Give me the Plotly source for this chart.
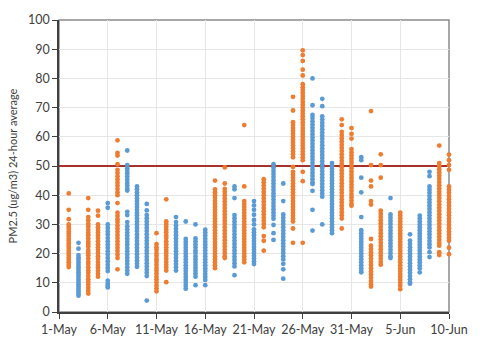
import plotly.graph_objects as go

# Daily 24-hour PM2.5 readings at each monitor, grouped into two series
dates_blue = ["2019-05-03", "2019-05-06", "2019-05-08", "2019-05-09", "2019-05-10",
              "2019-05-13", "2019-05-14", "2019-05-15", "2019-05-16", "2019-05-19",
              "2019-05-21", "2019-05-23", "2019-05-24", "2019-05-27", "2019-05-28",
              "2019-05-29", "2019-06-01", "2019-06-04", "2019-06-06", "2019-06-07",
              "2019-06-08"]
pm25_blue = [
    [23.7, 21.7, 19.5, 18.6, 17.9, 17, 16.1, 15.3, 14.4, 13.6, 12.8, 12, 11.1, 10.3, 9.5, 8.7, 7.9, 7.1, 6.3, 5.6],
    [37.3, 35.7, 30, 28.8, 27.6, 26.5, 25.3, 24.2, 23.1, 22, 20.8, 19.7, 18.5, 17.4, 16.2, 15.1, 14, 10.7, 9.7, 8.9, 8.4],
    [55.3, 50.3, 49.2, 48.3, 47.4, 46.4, 45.3, 44.2, 43.2, 42.2, 41.6, 34.3, 33.2, 30.8, 29.4, 28.3, 27.2, 26.2,
     25.1, 24, 23, 21.9, 20.8, 19.7, 18.6, 17.5, 16.4, 15.3, 14.2, 13.1],
    [43, 42, 41, 40, 38.9, 38, 37, 36, 35, 34, 33.1, 32, 31, 30, 28.8, 27.7, 26.5, 25.4, 24.3, 23.2, 22, 20.9,
     19.8, 18.7, 17.6, 16.5, 15.5],
    [37, 34.8, 33.2, 32.1, 31, 29.9, 28.8, 27.7, 26.6, 25.5, 24.4, 23.3, 22.2, 21.1, 20, 18.9, 17.8, 16.7, 15.6,
     14.5, 13.4, 12.3, 3.9],
    [32.5, 30.8, 29.6, 28.5, 27.4, 26.3, 25.2, 24.1, 23, 21.9, 20.8, 19.7, 18.6, 17.5, 16.4, 15.3, 14.2],
    [31, 25, 24, 23, 22, 21, 20, 19, 18, 17, 16, 15, 14, 13, 12, 11, 10, 9, 8],
    [30, 25.2, 24.2, 23.2, 22.2, 21.1, 20.2, 19.1, 18.1, 17.1, 16.1, 15.1, 14.1, 13.1, 12.1, 9.2],
    [28.2, 27.2, 26.2, 25.1, 24.1, 23.1, 22.1, 21.1, 20, 19, 18, 17, 16, 15, 14, 13, 12, 11, 9.2],
    [43, 42, 39, 33.2, 32.1, 31, 29.9, 28.8, 27.7, 26.6, 25.5, 24.4, 23.3, 22.2, 21.1, 20, 18.9, 17.8, 16.7,
     15.6, 12.6],
    [38, 36.5, 35, 33.3, 31.5, 30, 28.3, 27.3, 26.3, 25.3, 24.3, 23.3, 22.3, 21.3, 20.3, 19.3, 18.3, 17.3, 16.4],
    [50.6, 49.5, 48.4, 47.3, 46.2, 45.1, 44, 42.9, 41.8, 40.7, 39.6, 38.5, 37.4, 36.3, 35.2, 34.1, 33, 31.9,
     29.8, 27, 24.7],
    [44, 38, 33.4, 32.3, 31.2, 30.1, 29, 27.9, 26.8, 25.7, 24.6, 23.5, 22.4, 21.3, 20.2, 19.1, 18, 16.5, 14.6, 11.4],
    [80, 70.8, 67.5, 66.4, 65.3, 64.2, 63.1, 62, 60.9, 59.8, 58.7, 57.6, 56.5, 55.4, 54.3, 53.2, 52.1, 51, 49.9,
     48.8, 47.7, 46.6, 45.5, 44.4, 43.8, 41.5, 35, 27.9],
    [73, 70.5, 67, 65.9, 64.8, 63.7, 62.6, 61.5, 60.4, 59.3, 58.2, 57.1, 56, 54.9, 53.8, 52.7, 51.6, 50.5, 49.4,
     48.3, 47.2, 46.1, 45, 43.9, 42.8, 41.7, 40.6, 39.5, 30],
    [51, 50, 49, 48, 47, 46, 45, 44, 43, 42, 41, 40, 39, 38, 37, 36, 35, 34, 33, 32, 31, 30, 29, 28, 27],
    [53, 52, 46, 41, 32.5, 28, 27, 26, 25, 24, 23, 22, 21, 20, 19, 18, 17, 16, 15, 14, 13.6],
    [39, 33.4, 32.3, 31.2, 30.1, 29, 27.9, 26.8, 25.7, 24.6, 23.5, 22.4, 21.3, 20.2, 19.1, 18.5],
    [26.6, 24.4, 23.3, 22.2, 21.1, 20, 18.9, 17.8, 16.7, 15.6, 14.5, 13.4, 12.3, 11.2, 10.1, 9.7],
    [33, 32, 31, 30, 29, 28, 27, 26, 25, 24, 23, 22, 21, 20, 19, 18, 17, 16, 15, 13.6],
    [48, 46.5, 43, 41.9, 40.8, 39.7, 38.6, 37.5, 36.4, 35.3, 34.2, 33.1, 32, 30.9, 29.8, 28.7, 27.6, 26.5, 25.4,
     24.3, 23.2, 22.1, 20.5, 18.8],
]

dates_orange = ["2019-05-02", "2019-05-04", "2019-05-05", "2019-05-07", "2019-05-11",
                "2019-05-12", "2019-05-17", "2019-05-18", "2019-05-20", "2019-05-22",
                "2019-05-25", "2019-05-26", "2019-05-30", "2019-05-31", "2019-06-02",
                "2019-06-03", "2019-06-05", "2019-06-09", "2019-06-10"]
pm25_orange = [
    [40.6, 35, 31.8, 30, 29.2, 28.5, 27.6, 26.8, 26, 25.1, 24.3, 23.5, 22.6, 21.9, 21, 20.2, 19.5, 18.6, 17.8,
     17, 16.2, 15.4],
    [39, 35, 32.5, 31.4, 30.2, 29.3, 28.2, 27.1, 26.3, 25.2, 24.1, 23.3, 22.4, 21.2, 20.3, 19.4, 18.3, 17.2,
     16.4, 15.3, 14.2, 13.4, 12.3, 11.2, 10.3, 9.4, 8.3, 7.3, 6.3],
    [34.7, 33, 30, 29, 28.1, 27.2, 26.2, 25.3, 24.2, 23.1, 22.2, 21.3, 20.2, 19.1, 18.2, 17.1, 16.1, 15.2, 14.1,
     13.1, 12.1],
    [58.8, 54.5, 53.6, 50.6, 48.7, 47.6, 46.5, 45.4, 44.3, 43.2, 42.1, 41, 40, 37.3, 34, 32.9, 31.8, 30.8, 29.7,
     28.6, 27.5, 26.4, 25.3, 24.2, 23.1, 22, 20.9, 19.7, 18.5, 14.6],
    [27, 23.2, 22.1, 21.2, 20.1, 19.2, 18.1, 17.2, 16.2, 15.1, 14.2, 13.2, 12.1, 11.2, 10.2, 9.1, 8.1, 7.1],
    [38.6, 31, 30.1, 29.2, 28.2, 27.3, 26.2, 25.3, 24.2, 23.2, 22.2, 21.2, 20.3, 19.3, 18.2, 17.2, 16.2, 15.2,
     14.2, 10.2],
    [45, 42, 41, 40, 39, 38, 37, 36, 35, 34, 33, 32, 31, 30, 29, 28, 27, 26, 25, 24, 23, 22, 21, 20, 19, 18, 17,
     16, 15],
    [49.5, 44, 42.2, 41.1, 40, 38.9, 37.8, 36.7, 35.6, 34.5, 33.4, 32.3, 31.2, 30.1, 29, 27.9, 26.8, 25.7, 24.6,
     23.5, 22.4, 21.3, 20.2, 19.1, 18.5],
    [64, 43, 38, 37, 36, 35, 34, 33, 32, 31, 30, 29, 28, 27, 26, 25, 24, 23, 22, 21, 20, 19, 18, 17],
    [45.5, 44.4, 43.3, 42.2, 41.1, 40, 38.9, 37.8, 36.7, 35.6, 34.5, 33.4, 32.3, 31.2, 30.1, 29, 26, 24.4, 21],
    [73.7, 69, 65, 64, 63, 62, 61, 60, 59, 58, 57, 56, 55, 54, 53, 49.7, 48, 47, 46, 45, 44, 43, 42, 41, 40, 39,
     38, 37, 36, 35, 34, 33, 32, 31, 28.6, 23.7],
    [89.6, 88, 86, 83, 81, 78, 77, 76, 75, 74, 73, 72, 71, 70, 69, 68, 67, 66, 65, 64, 63, 62, 61, 60, 59, 58,
     57, 56, 55, 54, 53, 52, 48, 44.8, 23.7],
    [66, 64, 61.7, 60.6, 59.5, 58.4, 57.3, 56.2, 55.1, 54, 52.9, 51.8, 50.7, 49.6, 48.5, 47.4, 46.3, 45.2, 44.1,
     43, 41.9, 40.8, 39.7, 38.6, 37.5, 36.4, 35.3, 34.2, 33.1, 32, 28.6],
    [63, 61, 59.4, 55.8, 54.7, 53.6, 52.5, 51.4, 50.3, 49.2, 48.1, 47, 45.9, 44.8, 43.7, 42.6, 41.5, 40.4, 39.3,
     38.2, 37.1, 36.4],
    [68.8, 50.3, 45, 43, 38, 36.8, 25, 22.7, 21.6, 20.5, 19.4, 18.3, 17.2, 16.1, 15, 13.9, 12.8, 11.7, 10.6,
     9.5, 8.7],
    [54, 50.3, 46, 34.7, 33.6, 32.5, 31.4, 30.3, 29.2, 28.1, 27, 25.9, 24.8, 23.7, 22.6, 21.5, 20.4, 19.3, 18.2,
     17.1, 16.2],
    [34, 33, 32, 31, 30, 29, 28, 27, 26, 25, 24, 23, 22, 21, 20, 19, 18, 17, 16, 15, 14, 13, 12, 11, 10, 9, 7.8],
    [57, 51, 50, 48.9, 47.8, 46.7, 45.6, 44.5, 43.4, 42.3, 41.2, 40.1, 39, 37.9, 36.8, 35.7, 34.6, 33.5, 32.4,
     31.3, 30.2, 29.1, 28, 26.9, 25.8, 24.7, 23.6, 22.7, 20.5, 19.5],
    [53.9, 52, 50.3, 48.7, 43, 41.9, 40.8, 39.7, 38.6, 37.5, 36.4, 35.3, 34.2, 33.1, 32, 30.9, 29.8, 28.7, 27.6,
     26.5, 25.4, 24.4, 22, 19.8],
]

standard_level = 50  # 24-hour PM2.5 standard
x_start, x_end = "2019-05-01", "2019-06-10"

BLUE = "#5B9BD5"
ORANGE = "#ED7D31"
RED = "#A8322A"
FONT = "Lato, 'Open Sans', sans-serif"
TEXT = "#404040"


def flatten(dates, readings):
    xs, ys = [], []
    for d, vals in zip(dates, readings):
        xs.extend([d] * len(vals))
        ys.extend(vals)
    return xs, ys


fig = go.Figure()

# Standard line drawn first so the readings sit on top of it
fig.add_trace(go.Scatter(
    x=[x_start, x_end], y=[standard_level, standard_level], mode="lines",
    line=dict(color=RED, width=1.8), cliponaxis=False, showlegend=False, hoverinfo="skip",
))

for dates, readings, color in [(dates_blue, pm25_blue, BLUE), (dates_orange, pm25_orange, ORANGE)]:
    xs, ys = flatten(dates, readings)
    fig.add_trace(go.Scatter(
        x=xs, y=ys, mode="markers",
        marker=dict(color=color, size=4.8, line=dict(width=0)),
        cliponaxis=False, showlegend=False,
    ))

# Plot-area border
fig.add_shape(type="rect", xref="paper", yref="paper", x0=0, x1=1, y0=0, y1=1,
              line=dict(color="#8a8a8a", width=1.5), layer="below")

fig.update_layout(
    width=480, height=349,
    margin=dict(l=58, r=26, t=12, b=29),
    paper_bgcolor="white", plot_bgcolor="white",
    font=dict(family=FONT, size=12, color=TEXT),
)
fig.update_xaxes(
    type="date", range=[x_start, x_end],
    tick0=x_start, dtick=5 * 86400000, tickformat="%-d-%b",
    showgrid=True, gridcolor="#e6e6e6", gridwidth=1,
    showline=True, linecolor="#404040", linewidth=1.5,
    ticks="outside", ticklen=5, tickcolor="#404040",
    tickfont=dict(size=12.5, color=TEXT), zeroline=False,
)
fig.update_yaxes(
    range=[0, 100], dtick=10,
    showgrid=True, gridcolor="#e6e6e6", gridwidth=1,
    showline=True, linecolor="#404040", linewidth=1.5,
    ticks="outside", ticklen=5, tickcolor="#404040",
    tickfont=dict(size=12.5, color=TEXT), zeroline=False,
    title=dict(text="PM2.5 (ug/m3) 24-hour average", font=dict(size=11, color=TEXT), standoff=8),
)

fig.write_html("out.html")
